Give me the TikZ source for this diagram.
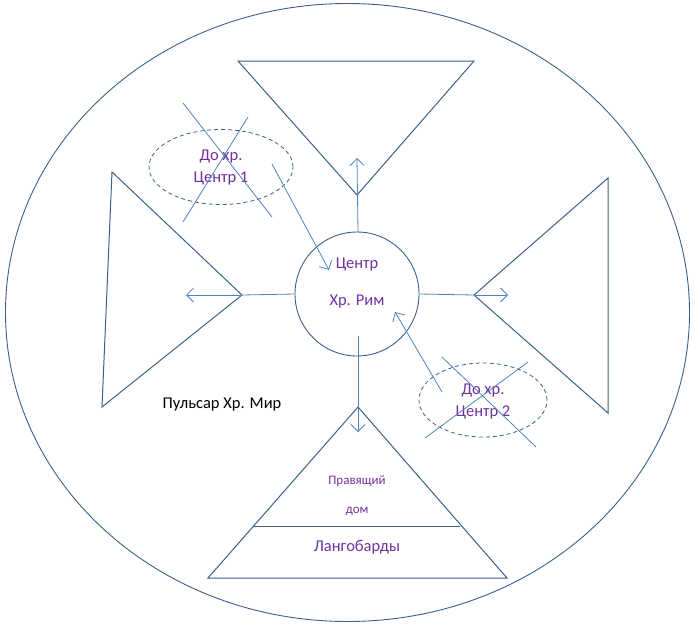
\documentclass[tikz,border=0pt]{standalone}
\usepackage{fontspec}
\setmainfont{Carlito}
\usetikzlibrary{arrows.meta,shapes.geometric}
\definecolor{lineblue}{HTML}{4F81BD}
\definecolor{darkblue}{HTML}{3A5F8C}
\definecolor{txtpurple}{HTML}{7030A0}
\begin{document}
\begin{tikzpicture}[x=1pt,y=-1pt,
  thinline/.style={draw=lineblue,line width=0.8pt},
  tri/.style={draw=darkblue,line width=1pt,line join=miter},
  arr/.style={thinline,-{Straight Barb[length=7pt,width=14pt,line width=0.8pt]}},
  dashell/.style={ellipse,draw=darkblue,line width=0.8pt,dash pattern=on 4pt off 3pt,inner sep=0pt},
  lbl/.style={text=txtpurple,font=\fontsize{16.5}{18}\selectfont,inner sep=0pt},
  small/.style={text=txtpurple,font=\fontsize{13}{15}\selectfont,inner sep=0pt}]
\useasboundingbox (0,0) rectangle (695,626);
% outer ellipse
\node[ellipse,draw=darkblue,line width=0.9pt,minimum width=684pt,minimum height=618pt,inner sep=0pt] (outer) at (347.5,312.5) {};
% triangles
\coordinate (tA) at (238,61); \coordinate (tB) at (474,61); \coordinate (tC) at (357,195);
\draw[tri] (tA) -- (tB) -- (tC) -- cycle;
\coordinate (lA) at (112,172); \coordinate (lB) at (102,407); \coordinate (lC) at (242,295);
\draw[tri] (lA) -- (lC) -- (lB) -- cycle;
\coordinate (rA) at (608,178); \coordinate (rB) at (608,413); \coordinate (rC) at (474,295);
\draw[tri] (rA) -- (rC) -- (rB) -- cycle;
\coordinate (bA) at (358,407); \coordinate (bB) at (208,578); \coordinate (bC) at (507,578);
\draw[tri] (bA) -- (bB) -- (bC) -- cycle;
\coordinate (bL) at (253,526); \coordinate (bR) at (460,526);
\draw[tri] (bL) -- (bR);
% center circle
\node[circle,draw=darkblue,line width=0.9pt,minimum size=124pt,inner sep=0pt] (c) at (357,294) {};
\node[lbl] (c1) at (357,265) {Центр};
\node[lbl] (c2) at (357,302) {Хр. Рим};
% arrow tips
\coordinate (upT) at (357,158);
\coordinate (leftT) at (186,295);
\coordinate (rightT) at (508,295);
\coordinate (downT) at (358,432);
\coordinate (cTop) at (358,232);
\coordinate (cLeft) at (242,295);
\coordinate (cRight) at (474,295);
\coordinate (cBot) at (358,336);
\draw[arr] (cTop) -- (upT);
\draw[arr] (cLeft) -- (leftT);
\draw[thinline] (c.east) -- (cRight);
\draw[arr] (cRight) -- (rightT);
\draw[thinline] (c.west) -- (cLeft);
\draw[arr] (cBot) -- (downT);
% dashed ellipse 1
\node[dashell,minimum width=144pt,minimum height=75pt] (e1) at (221,167) {};
\node[lbl] (e1a) at (221,157) {До хр.};
\node[lbl] (e1b) at (221,179) {Центр 1};
\coordinate (x1a) at (183,103); \coordinate (x1b) at (272,217);
\coordinate (x1c) at (248,117); \coordinate (x1d) at (183,222);
\draw[thinline] (x1a) -- (x1b);
\draw[thinline] (x1c) -- (x1d);
\coordinate (a1s) at (272,164); \coordinate (a1t) at (329,270);
\draw[arr] (a1s) -- (a1t);
% dashed ellipse 2
\node[dashell,minimum width=128pt,minimum height=74pt] (e2) at (483,400) {};
\node[lbl] (e2a) at (483,391) {До хр.};
\node[lbl] (e2b) at (483,412) {Центр 2};
\coordinate (x2a) at (442,357); \coordinate (x2b) at (536,447);
\coordinate (x2c) at (528,362); \coordinate (x2d) at (425,438);
\draw[thinline] (x2a) -- (x2b);
\draw[thinline] (x2c) -- (x2d);
\coordinate (a2s) at (442,392); \coordinate (a2t) at (395,312);
\draw[arr] (a2s) -- (a2t);
% texts
\node[inner sep=0pt,font=\fontsize{16.5}{18}\selectfont] (puls) at (222,405) {Пульсар Хр. Мир};
\node[small] (p1) at (357,481) {Правящий};
\node[small] (p2) at (357,511) {дом};
\node[lbl] (p3) at (357,547) {Лангобарды};
\end{tikzpicture}
\end{document}
